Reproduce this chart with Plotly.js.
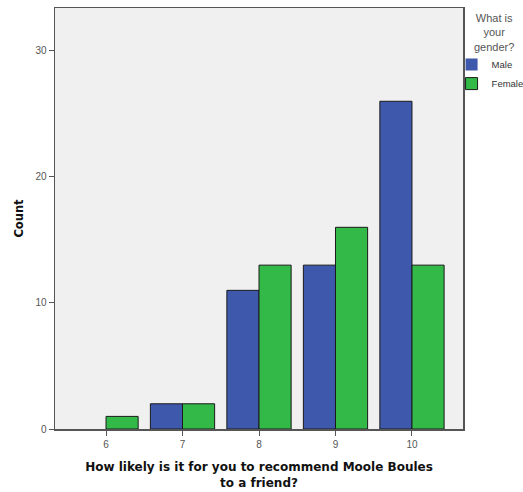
<!DOCTYPE html>
<html>
<head>
<meta charset="utf-8">
<script src="https://cdn.plot.ly/plotly-3.0.1.min.js"></script>
<style>html,body{margin:0;padding:0;background:#fff;}#chart{width:523px;height:492px;}</style>
</head>
<body>
<div id="chart"></div>
<script>
const categories = [6, 7, 8, 9, 10];
const male = [0, 2, 11, 13, 26];
const female = [1, 2, 13, 16, 13];
const yTicks = [0, 10, 20, 30];

const outline = arr => arr.map(v => (v > 0 ? 1 : 0));

const traces = [
  {type: 'bar', name: 'Male', x: categories, y: male,
   marker: {color: 'rgb(62,88,172)', line: {color: '#1a1a1a', width: outline(male)}}},
  {type: 'bar', name: 'Female', x: categories, y: female,
   marker: {color: 'rgb(50,185,72)', line: {color: '#1a1a1a', width: outline(female)}}}
];

const layout = {
  width: 523, height: 492,
  margin: {l: 55, r: 60, t: 8, b: 63, autoexpand: false},
  paper_bgcolor: '#ffffff',
  plot_bgcolor: '#f0f0f0',
  barmode: 'group',
  bargap: 0.16,
  bargroupgap: 0,
  font: {family: 'Liberation Sans, Arial, sans-serif', color: '#555'},
  showlegend: true,
  legend: {
    x: 0.972, y: 0.90, xanchor: 'left', yanchor: 'top',
    bgcolor: 'rgba(0,0,0,0)',
    font: {size: 9.5, color: '#333'},
    itemwidth: 30, tracegroupgap: 0
  },
  annotations: [{
    xref: 'paper', yref: 'paper', x: 1.076, y: 0.995, xanchor: 'center', yanchor: 'top',
    text: 'What is<br>your<br>gender?', showarrow: false, align: 'center',
    font: {size: 11, color: '#555'}
  }],
  xaxis: {
    range: [5.333, 10.667],
    tickmode: 'array', tickvals: categories, ticktext: categories.map(String),
    ticks: 'outside', ticklen: 5, tickcolor: '#555',
    showline: true, linecolor: '#555', linewidth: 1.5, mirror: true,
    showgrid: false, zeroline: false,
    tickfont: {size: 10, color: '#555'},
    title: {text: 'How likely is it for you to recommend Moole Boules<br>to a friend?',
            font: {family: 'DejaVu Sans, sans-serif', size: 12, color: '#111', weight: 'bold'}, standoff: 14}
  },
  yaxis: {
    range: [0, 33.4],
    tickmode: 'array', tickvals: yTicks,
    ticks: 'outside', ticklen: 5, tickcolor: '#555',
    showline: true, linecolor: '#555', linewidth: 1.5, mirror: true,
    showgrid: false, zeroline: false,
    tickfont: {size: 10, color: '#555'},
    title: {text: 'Count', font: {family: 'DejaVu Sans, sans-serif', size: 11.5, color: '#111', weight: 'bold'}, standoff: 9}
  }
};

Plotly.newPlot('chart', traces, layout, {displayModeBar: false, staticPlot: true});
</script>
</body>
</html>
